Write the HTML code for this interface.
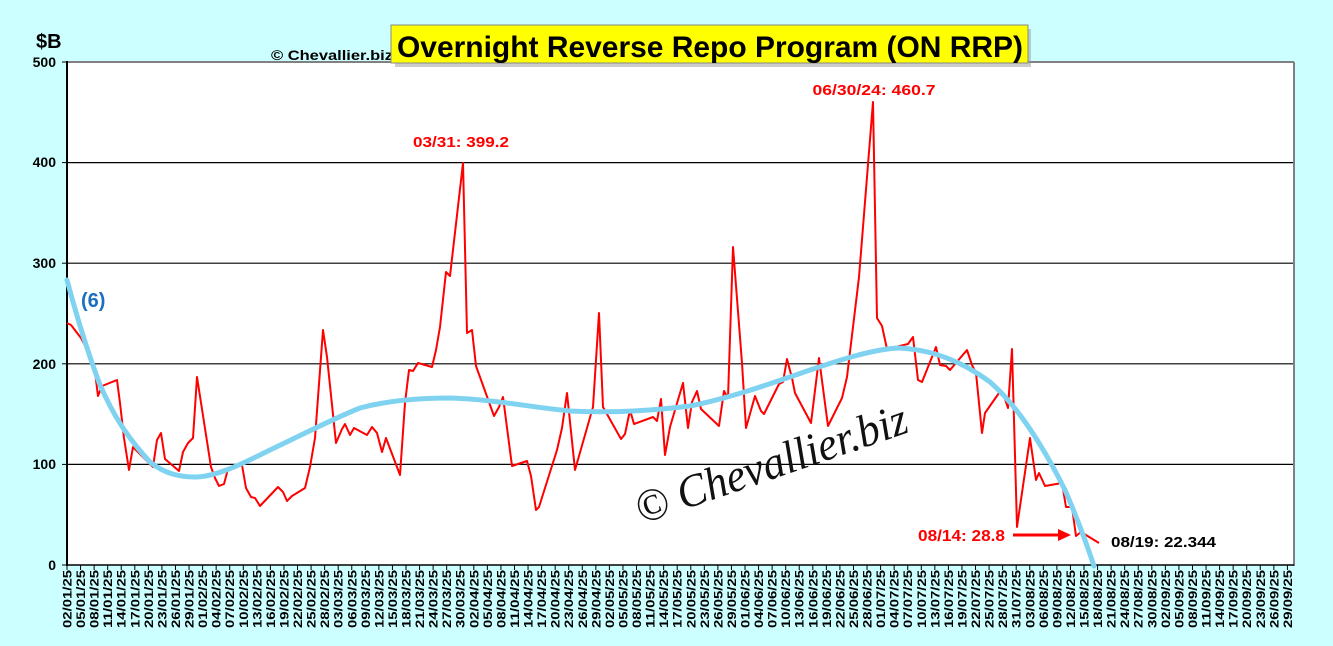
<!DOCTYPE html>
<html><head><meta charset="utf-8"><style>
html,body{margin:0;padding:0;background:#ccffff;}
svg{display:block;font-family:"Liberation Sans",Arial,sans-serif;}
</style></head><body>
<svg width="1333" height="646" viewBox="0 0 1333 646" xmlns="http://www.w3.org/2000/svg">
<rect x="0" y="0" width="1333" height="646" fill="#ccffff"/>
<rect x="67" y="62" width="1226" height="503" fill="#ffffff"/>
<g stroke="#000" stroke-width="1.2">
<line x1="67" y1="162.6" x2="1293" y2="162.6"/>
<line x1="67" y1="263.2" x2="1293" y2="263.2"/>
<line x1="67" y1="363.8" x2="1293" y2="363.8"/>
<line x1="67" y1="464.4" x2="1293" y2="464.4"/>
</g>
<line x1="67" y1="62" x2="1294" y2="62" stroke="#808080" stroke-width="2"/>
<line x1="1294" y1="62" x2="1294" y2="566" stroke="#808080" stroke-width="2"/>
<line x1="67" y1="61" x2="67" y2="566" stroke="#000" stroke-width="2"/>
<line x1="67" y1="565" x2="1294" y2="565" stroke="#000" stroke-width="1.5"/>
<g stroke="#000" stroke-width="1">
<line x1="62" y1="62" x2="67" y2="62"/><line x1="62" y1="162.6" x2="67" y2="162.6"/><line x1="62" y1="263.2" x2="67" y2="263.2"/><line x1="62" y1="363.8" x2="67" y2="363.8"/><line x1="62" y1="464.4" x2="67" y2="464.4"/><line x1="62" y1="565" x2="67" y2="565"/>
</g>
<g font-size="14" text-anchor="end" fill="#000" font-weight="bold">
<text x="56" y="67">500</text><text x="56" y="167">400</text><text x="56" y="268">300</text><text x="56" y="369">200</text><text x="56" y="469">100</text><text x="56" y="570">0</text>
</g>
<text x="36" y="48" font-size="20" font-weight="bold">$B</text>
<text x="271" y="60" font-size="14" font-weight="bold" textLength="122" lengthAdjust="spacingAndGlyphs">© Chevallier.biz</text>

<g id="xl" font-size="12" fill="#000"></g>
<g id="xt" stroke="#000" stroke-width="1"></g>

<text transform="translate(776,478) rotate(-19)" text-anchor="middle" font-family="Liberation Serif,serif" font-style="italic" font-size="46" fill="#111" textLength="285" lengthAdjust="spacingAndGlyphs">© Chevallier.biz</text>

<polyline fill="none" stroke="#ff0000" stroke-width="2" stroke-linejoin="round" points="67,323 71,325 81,338 90,355 95,372 98,396 102,386 117,380 120,403 124,438 129,470 133,447 153,467 157,440 161,433 165,459 179,471 183,452 188,443 193,438 197,377 211,467 215,478 219,486 224,484 228,469 242,465 246,488 251,497 255,498 260,506 278,487 283,492 287,501 292,496 305,488 310,467 315,438 323,330 327,357 336,443 342,429 345,424 350,435 354,428 367,435 372,427 377,433 382,452 386,438 400,475 405,403 409,370 413,371 418,363 432,367 436,350 440,327 446,272 450,276 463,163 467,333 472,330 476,366 494,416 499,407 503,397 512,466 527,461 531,476 536,510 539,507 557,450 562,428 567,393 575,470 593,407 599,313 603,407 621,439 625,434 630,410 634,424 653,417 657,421 661,399 665,455 670,427 683,383 688,428 692,402 697,391 701,409 719,426 724,391 728,398 733,247 742,363 746,428 755,396 761,411 764,414 779,384 783,382 787,359 792,378 795,393 811,423 819,358 828,426 842,398 847,377 859,277 873,102 877,318 882,326 887,349 908,344 913,337 918,380 922,382 936,347 940,365 946,366 950,370 967,350 972,365 976,373 982,433 985,413 999,393 1003,393 1008,408 1012,349 1017,527 1030,438 1036,480 1039,473 1045,486 1062,483 1066,507 1072,507 1076,536 1081,532 1099,543"/>

<path fill="none" stroke="#7fd3f0" stroke-width="5" stroke-linecap="round" d="M67,280 C75,310 85,345 100,385 C112,412 125,435 150,462 C165,474 180,477 195,477 C215,477 240,465 270,450 C300,436 330,420 360,408 C390,400 420,398 450,398 C490,399 530,407 570,411 C610,413 650,411 690,406 C730,398 770,384 810,370 C840,360 870,350 897,348 C930,349 960,360 990,382 C1020,408 1045,450 1065,490 C1078,520 1087,545 1094,566"/>

<text x="81" y="307" font-size="20" font-weight="bold" fill="#1a6fbf">(6)</text>
<text x="461" y="147" font-size="15" font-weight="bold" fill="#ff0000" text-anchor="middle" textLength="96" lengthAdjust="spacingAndGlyphs">03/31: 399.2</text>
<text x="874" y="95" font-size="15" font-weight="bold" fill="#ff0000" text-anchor="middle" textLength="123" lengthAdjust="spacingAndGlyphs">06/30/24: 460.7</text>
<text x="918" y="541" font-size="16" font-weight="bold" fill="#ff0000" textLength="87" lengthAdjust="spacingAndGlyphs">08/14: 28.8</text>
<line x1="1013" y1="535" x2="1060" y2="535" stroke="#ff0000" stroke-width="3"/>
<polygon points="1058,529 1071,535 1058,541" fill="#ff0000"/>
<text x="1111" y="547" font-size="15" font-weight="bold" fill="#000" textLength="105" lengthAdjust="spacingAndGlyphs">08/19: 22.344</text>

<rect x="395" y="29" width="636" height="38" fill="#999" opacity="0.5"/>
<rect x="391" y="25" width="637" height="38" fill="#ffff00" stroke="#888" stroke-width="1"/>
<text x="397" y="57" font-size="30" font-weight="bold" fill="#000" textLength="626" lengthAdjust="spacingAndGlyphs">Overnight Reverse Repo Program (ON RRP)</text>
</svg>
<script>
(function(){
var ns="http://www.w3.org/2000/svg";
var xl=document.getElementById("xl"),xt=document.getElementById("xt");
var start=new Date(Date.UTC(2025,0,2));
for(var i=0;i<91;i++){
 var d=new Date(start.getTime()+i*3*86400000);
 var s=("0"+d.getUTCDate()).slice(-2)+"/"+("0"+(d.getUTCMonth()+1)).slice(-2)+"/25";
 var x=67+i*13.56;
 var t=document.createElementNS(ns,"text");
 t.setAttribute("transform","translate("+(x+4.5)+",570) rotate(-90)");
 t.setAttribute("text-anchor","end");
 t.setAttribute("font-weight","bold");
 t.setAttribute("textLength","58");
 t.setAttribute("lengthAdjust","spacingAndGlyphs");
 t.textContent=s;xl.appendChild(t);
 var l=document.createElementNS(ns,"line");
 l.setAttribute("x1",x);l.setAttribute("x2",x);l.setAttribute("y1",565);l.setAttribute("y2",570);
 xt.appendChild(l);
}
})();
</script>
</body></html>
